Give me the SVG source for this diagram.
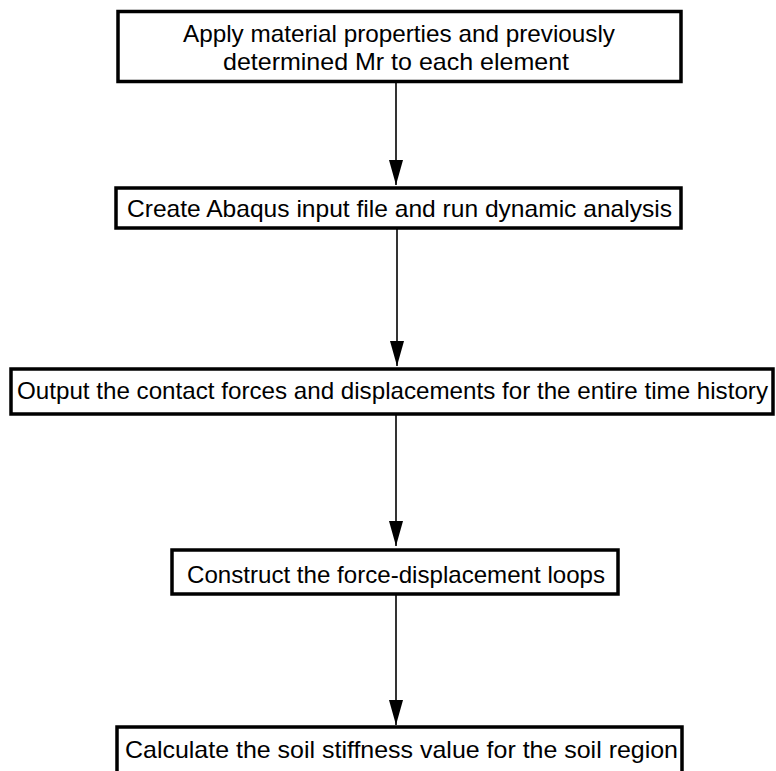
<svg xmlns="http://www.w3.org/2000/svg" width="776" height="771" viewBox="0 0 776 771">
<style>
.box{fill:#fff;stroke:#000;stroke-width:3.5}
.t{font-family:"Liberation Sans",Arial,sans-serif;font-size:24px;fill:#000;text-anchor:middle}
.c{stroke:#000;stroke-width:1.6;fill:none}
</style>
<defs>
<marker id="ah" markerUnits="userSpaceOnUse" markerWidth="25" markerHeight="14" refX="25" refY="7" orient="auto" viewBox="0 0 25 14">
<path d="M0,0 L25,7 L0,14 Z" fill="#000"/>
</marker>
</defs>
<rect width="776" height="771" fill="#fff"/>
<g id="connectors">
<line class="c" x1="396" y1="82" x2="396" y2="185" marker-end="url(#ah)"/>
<line class="c" x1="397" y1="228" x2="397" y2="366" marker-end="url(#ah)"/>
<line class="c" x1="396" y1="415" x2="396" y2="546" marker-end="url(#ah)"/>
<line class="c" x1="396" y1="594" x2="396" y2="725" marker-end="url(#ah)"/>
</g>
<g id="n1">
<rect class="box" x="118" y="11.5" width="563" height="70"/>
<text class="t" x="399" y="42" textLength="432" lengthAdjust="spacingAndGlyphs">Apply material properties and previously</text>
<text class="t" x="396" y="70" textLength="346" lengthAdjust="spacingAndGlyphs">determined Mr to each element</text>
</g>
<g id="n2">
<rect class="box" x="116" y="188" width="565" height="40"/>
<text class="t" x="399.5" y="217" textLength="545" lengthAdjust="spacingAndGlyphs">Create Abaqus input file and run dynamic analysis</text>
</g>
<g id="n3">
<rect class="box" x="11" y="369" width="762" height="45"/>
<text class="t" x="392.5" y="399" textLength="751" lengthAdjust="spacingAndGlyphs">Output the contact forces and displacements for the entire time history</text>
</g>
<g id="n4">
<rect class="box" x="172" y="550" width="446" height="44"/>
<text class="t" x="396" y="583" textLength="418" lengthAdjust="spacingAndGlyphs">Construct the force-displacement loops</text>
</g>
<g id="n5">
<rect class="box" x="117" y="727" width="565" height="60"/>
<text class="t" x="401.5" y="758" textLength="553" lengthAdjust="spacingAndGlyphs">Calculate the soil stiffness value for the soil region</text>
</g>
</svg>
